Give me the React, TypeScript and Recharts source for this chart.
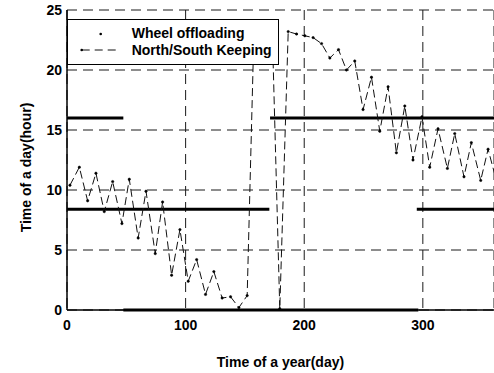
import React from "react";
import {
  LineChart,
  Line,
  XAxis,
  YAxis,
  CartesianGrid,
  ReferenceLine,
  Legend,
} from "recharts";

// ── Data ──────────────────────────────────────────────────────────────────────

const days = [
  2.5, 10.4, 17.4, 24.4, 31.4, 38.5, 46.3, 52.5, 60, 66.6, 74.4, 80.6, 88.2,
  95.2, 102.2, 109.3, 116.8, 123.8, 130.8, 137.9, 144.9, 151.9, 157.7, 165.3,
  173.0, 179.4, 186.5, 193.5, 200.5, 207.5, 214.6, 221.6, 228.9, 235.6, 242.6,
  249.6, 256.7, 263.7, 270.7, 277.7, 284.8, 291.7, 299.3, 305.8, 312.8, 320.7,
  326.9, 334.7, 340.9, 348.8, 355, 362,
];

const hours = [
  10.4, 11.9, 9.1, 11.4, 8.2, 10.7, 7.2, 10.9, 6.0, 9.9, 4.7, 9.0, 2.9, 6.7,
  2.4, 4.2, 1.3, 3.2, 1.0, 1.1, 0.2, 1.2, 23.5, 23.8, 23.5, 0.1, 23.2, 23.0,
  22.85, 22.7, 22.2, 21.0, 21.7, 20.0, 20.75, 16.7, 19.4, 14.9, 18.6, 13.1,
  17.0, 12.5, 16.1, 11.9, 15.1, 11.8, 14.7, 11.1, 13.95, 10.8, 13.4, 10.8,
];

// thick horizontal bars: [from day, to day, hour]
const keepFrom = [0, 0, 47.5, 171.2, 294.9];
const keepTo = [47.5, 170.6, 296.2, 360, 360];
const keepHour = [16.0, 8.4, 0, 16.0, 8.4];

const xTicks = [0, 100, 200, 300];
const yTicks = [0, 5, 10, 15, 20, 25];
const topTicks = [0, 10, 20, 30, 40, 50, 60, 70, 80, 90, 100, 110, 120, 130, 140, 150, 160, 170, 180, 190, 200, 210, 220, 230, 240, 250, 260, 270, 280, 290, 300, 310, 320, 330, 340, 350];

const wheelData = days.map((d, i) => ({ day: d, hour: hours[i] }));

// ── Styles ────────────────────────────────────────────────────────────────────

const FONT = "'Liberation Sans', Arial, Helvetica, sans-serif";

const tickStyle = {
  fill: "#000",
  fontSize: 14,
  fontWeight: "bold" as const,
  fontFamily: FONT,
};

function LegendBox() {
  return (
    <svg width={212} height={46} style={{ display: "block" }}>
      <rect x={0.5} y={0.5} width={211} height={45} fill="#fff" stroke="#000" strokeWidth={1} />
      <circle cx={33.7} cy={15} r={1.3} fill="#000" />
      <text x={64.7} y={19} fontSize={14} fontWeight="bold" fontFamily={FONT} fill="#000">
        Wheel offloading
      </text>
      <line x1={14.7} y1={31} x2={53} y2={31} stroke="#111" strokeWidth={1} strokeDasharray="8 5" />
      <circle cx={14.7} cy={31} r={1.3} fill="#000" />
      <text x={64.7} y={36} fontSize={14} fontWeight="bold" fontFamily={FONT} fill="#000">
        North/South Keeping
      </text>
    </svg>
  );
}

export default function App() {
  return (
    <div style={{ width: 494, height: 373, background: "#fff", fontFamily: FONT }}>
      <style>{"body{margin:0;background:#fff}"}</style>
      <LineChart
        width={494}
        height={373}
        data={wheelData}
        margin={{ top: 10, right: 0, left: 0, bottom: 0 }}
      >
        <CartesianGrid stroke="#1a1a1a" strokeDasharray="10 6" strokeWidth={1} />
        <XAxis
          dataKey="day"
          type="number"
          domain={[0, 360]}
          ticks={xTicks}
          allowDataOverflow
          height={63}
          axisLine={{ stroke: "#000", strokeWidth: 1.5 }}
          tickLine={false}
          tickSize={6}
          tickMargin={4}
          tick={tickStyle}
          label={{
            value: "Time of a year(day)",
            position: "insideBottom",
            offset: 6,
            style: { ...tickStyle, fontSize: 14 },
          }}
        />
        <XAxis
          xAxisId="top"
          orientation="top"
          type="number"
          domain={[0, 360]}
          ticks={topTicks}
          allowDataOverflow
          mirror
          height={0}
          tick={false}
          tickSize={3}
          tickLine={{ stroke: "#000" }}
          axisLine={{ stroke: "#000", strokeWidth: 1.5 }}
        />
        <YAxis
          type="number"
          domain={[0, 25]}
          ticks={yTicks}
          allowDataOverflow
          width={67}
          axisLine={{ stroke: "#000", strokeWidth: 1.5 }}
          tickLine={false}
          tickSize={3}
          tickMargin={2}
          tick={tickStyle}
          label={{
            value: "Time of a day(hour)",
            angle: -90,
            position: "center",
            dx: -7,
            dy: 7.5,
            style: { ...tickStyle, fontSize: 14 },
          }}
        />
        {keepFrom.map((from, i) => (
          <ReferenceLine
            key={i}
            segment={[
              { x: from, y: keepHour[i] },
              { x: keepTo[i], y: keepHour[i] },
            ]}
            stroke="#000"
            strokeWidth={3}
          />
        ))}
        <Line
          dataKey="hour"
          stroke="#111"
          strokeWidth={1}
          strokeDasharray="8 4"
          dot={{ r: 1.2, fill: "#000", stroke: "#000", strokeWidth: 0.5 }}
          isAnimationActive={false}
        />
        <Legend
          layout="vertical"
          align="center"
          verticalAlign="middle"
          wrapperStyle={{ top: 19, left: 67, width: 212, height: 46 }}
          content={() => <LegendBox />}
        />
      </LineChart>
    </div>
  );
}
